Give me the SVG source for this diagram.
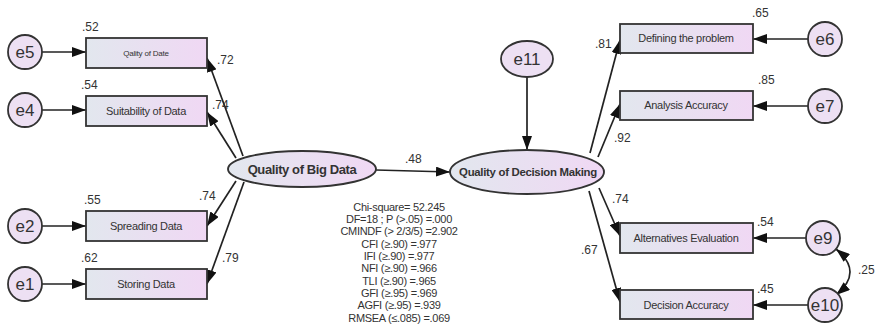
<svg xmlns="http://www.w3.org/2000/svg" width="876" height="326" viewBox="0 0 876 326">
<defs>
<linearGradient id="g" x1="0" y1="0" x2="1" y2="0">
<stop offset="0" stop-color="#e2e7ee"/>
<stop offset="1" stop-color="#f0d8f4"/>
</linearGradient>
<marker id="ah" viewBox="0 0 14 10" refX="14" refY="5" markerWidth="14" markerHeight="10" markerUnits="userSpaceOnUse" orient="auto-start-reverse">
<path d="M0,0 L14,5 L0,10 Z" fill="#111"/>
</marker>
<style>
.box{fill:url(#g);stroke:#333;stroke-width:1.8}
.circ{fill:#ede0f3;stroke:#333;stroke-width:1.8}
.ell{fill:url(#g);stroke:#333;stroke-width:1.9}
.ln{stroke:#222;stroke-width:1.7;fill:none;marker-end:url(#ah)}
.t{font-family:"Liberation Sans",Arial,sans-serif;fill:#333}
.lbl{font-size:11px;text-anchor:middle;letter-spacing:-0.3px}
.e{font-size:17px;text-anchor:middle}
.n{font-size:12px;fill:#333}
.b{font-size:13px;font-weight:bold;text-anchor:middle;letter-spacing:-0.4px}
.b2{font-size:11.4px;font-weight:bold;text-anchor:middle;letter-spacing:-0.3px}
.small{font-size:8px;text-anchor:middle;letter-spacing:-0.2px}
.fit{font-size:11px;text-anchor:middle;letter-spacing:-0.3px}
</style>
</defs>
<rect width="876" height="326" fill="#fff"/>

<g id="connectors">
<line class="ln" x1="42" y1="52" x2="86" y2="52"/>
<line class="ln" x1="42" y1="110" x2="86" y2="110"/>
<line class="ln" x1="42" y1="226" x2="86" y2="226"/>
<line class="ln" x1="42" y1="284" x2="86" y2="284"/>
<line class="ln" x1="243" y1="156" x2="207" y2="58"/>
<line class="ln" x1="236" y1="158" x2="207" y2="112"/>
<line class="ln" x1="236" y1="181" x2="207" y2="226"/>
<line class="ln" x1="244" y1="182" x2="207" y2="284"/>
<line class="ln" x1="376" y1="170" x2="450" y2="172"/>
<line class="ln" x1="527" y1="77" x2="527" y2="150"/>
<line class="ln" x1="590" y1="153" x2="620" y2="40"/>
<line class="ln" x1="598" y1="157" x2="620" y2="104"/>
<line class="ln" x1="599" y1="188" x2="620" y2="236"/>
<line class="ln" x1="589" y1="191" x2="620" y2="302"/>
<line class="ln" x1="808" y1="39" x2="753" y2="39"/>
<line class="ln" x1="808" y1="106" x2="753" y2="106"/>
<line class="ln" x1="806" y1="238" x2="753" y2="238"/>
<line class="ln" x1="808" y1="305" x2="753" y2="305"/>
<path class="ln" d="M836,249 Q864,272 836,295" marker-start="url(#ah)"/>
</g>

<g id="e5"><circle class="circ" cx="25" cy="52" r="17"/><text class="t e" x="25" y="58">e5</text></g>
<g id="e4"><circle class="circ" cx="25" cy="110" r="17"/><text class="t e" x="25" y="116">e4</text></g>
<g id="e2"><circle class="circ" cx="25" cy="226" r="17"/><text class="t e" x="25" y="232">e2</text></g>
<g id="e1"><circle class="circ" cx="25" cy="284" r="17"/><text class="t e" x="25" y="290">e1</text></g>

<g id="qualityOfDate"><rect class="box" x="86" y="38" width="121" height="30"/><text class="t small" x="146" y="56">Qality of Date</text><text class="t n" x="82" y="31">.52</text></g>
<g id="suitability"><rect class="box" x="86" y="96" width="121" height="30"/><text class="t lbl" x="146" y="115">Suitability of Data</text><text class="t n" x="81" y="89">.54</text></g>
<g id="spreading"><rect class="box" x="86" y="211" width="121" height="30"/><text class="t lbl" x="146" y="230">Spreading Data</text><text class="t n" x="84" y="204">.55</text></g>
<g id="storing"><rect class="box" x="86" y="269" width="121" height="30"/><text class="t lbl" x="146" y="288">Storing Data</text><text class="t n" x="81" y="262">.62</text></g>

<g id="weightsLeft">
<text class="t n" x="217" y="64">.72</text>
<text class="t n" x="212" y="109">.74</text>
<text class="t n" x="199" y="200">.74</text>
<text class="t n" x="222" y="262">.79</text>
<text class="t n" x="405" y="163">.48</text>
</g>

<g id="bigData"><ellipse class="ell" cx="302" cy="169" rx="74" ry="18"/><text class="t b" x="302" y="174">Quality of Big Data</text></g>

<g id="e11"><ellipse class="circ" cx="527" cy="59" rx="26" ry="18"/><text class="t e" x="527" y="65">e11</text></g>

<g id="decision"><ellipse class="ell" cx="527" cy="172" rx="77" ry="22"/><text class="t b2" x="528" y="176">Quality of Decision Making</text></g>

<g id="fit">
<text class="t fit" x="399" y="211">Chi-square= 52.245</text>
<text class="t fit" x="399" y="223">DF=18 ; P (&gt;.05) =.000</text>
<text class="t fit" x="399" y="235">CMINDF (&gt; 2/3/5) =2.902</text>
<text class="t fit" x="399" y="248">CFI (≥.90) =.977</text>
<text class="t fit" x="399" y="260">IFI (≥.90) =.977</text>
<text class="t fit" x="399" y="272">NFI (≥.90) =.966</text>
<text class="t fit" x="399" y="285">TLI (≥.90) =.965</text>
<text class="t fit" x="399" y="297">GFI (≥.95) =.969</text>
<text class="t fit" x="399" y="309">AGFI (≥.95) =.939</text>
<text class="t fit" x="399" y="322">RMSEA (≤.085) =.069</text>
</g>

<g id="defining"><rect class="box" x="620" y="24" width="133" height="29"/><text class="t lbl" x="686" y="42">Defining the problem</text><text class="t n" x="752" y="17">.65</text></g>
<g id="analysis"><rect class="box" x="620" y="91" width="133" height="29"/><text class="t lbl" x="686" y="109">Analysis Accuracy</text><text class="t n" x="758" y="84">.85</text></g>
<g id="alternatives"><rect class="box" x="620" y="223" width="133" height="30"/><text class="t lbl" x="686" y="242">Alternatives Evaluation</text><text class="t n" x="757" y="226">.54</text></g>
<g id="decisionAccuracy"><rect class="box" x="620" y="290" width="133" height="29"/><text class="t lbl" x="686" y="309">Decision Accuracy</text><text class="t n" x="757" y="293">.45</text></g>

<g id="weightsRight">
<text class="t n" x="595" y="48">.81</text>
<text class="t n" x="614" y="142">.92</text>
<text class="t n" x="612" y="203">.74</text>
<text class="t n" x="581" y="254">.67</text>
<text class="t n" x="858" y="274">.25</text>
</g>

<g id="e6"><circle class="circ" cx="825" cy="39" r="17"/><text class="t e" x="825" y="45">e6</text></g>
<g id="e7"><circle class="circ" cx="825" cy="106" r="17"/><text class="t e" x="825" y="112">e7</text></g>
<g id="e9"><circle class="circ" cx="823" cy="238" r="17"/><text class="t e" x="823" y="244">e9</text></g>
<g id="e10"><circle class="circ" cx="825" cy="305" r="17"/><text class="t e" x="825" y="311">e10</text></g>
</svg>
